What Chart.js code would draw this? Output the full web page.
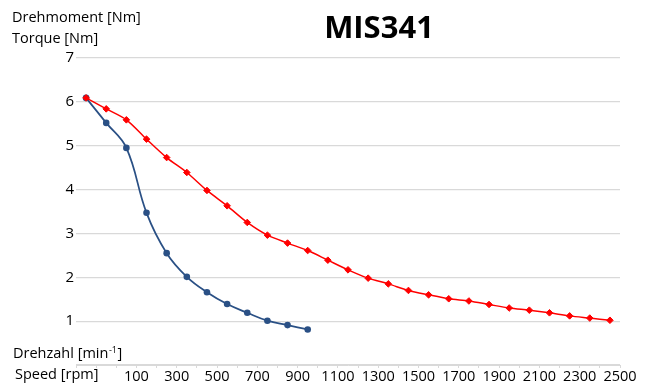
<!DOCTYPE html>
<html>
<head>
<meta charset="utf-8">
<script src="https://cdn.jsdelivr.net/npm/chart.js@4.4.1/dist/chart.umd.min.js"></script>
<style>
  html, body { margin: 0; padding: 0; background: #ffffff; }
  #wrap { width: 648px; height: 385px; }
</style>
</head>
<body>
<div id="wrap"><canvas id="c" width="648" height="385"></canvas></div>
<script>
// ---- data ----
const chartTitle = 'MIS341';
const speedTickLabels = ['100','300','500','700','900','1100','1300','1500','1700','1900','2100','2300','2500'];
const torqueTicks = [0, 1, 2, 3, 4, 5, 6, 7];
// measuring point index along the speed axis (category positions)
const pointIndex = [0,1,2,3,4,5,6,7,8,9,10,11,12,13,14,15,16,17,18,19,20,21,22,23,24,25,26];
// blue curve
const torqueBlue = [6.09, 5.52, 4.95, 3.47, 2.55, 2.01, 1.66, 1.39, 1.19, 1.01, 0.91, 0.81];
// red curve
const torqueRed = [6.09, 5.84, 5.59, 5.15, 4.73, 4.39, 3.98, 3.63, 3.25, 2.96, 2.78, 2.61, 2.39,
                   2.17, 1.98, 1.85, 1.70, 1.60, 1.51, 1.46, 1.38, 1.30, 1.25, 1.19, 1.12, 1.07, 1.02];

const toPoints = (vals) => vals.map((v, i) => ({ x: pointIndex[i], y: v }));
const FONT = "'Open Sans', 'Liberation Sans', sans-serif";

const textPlugin = {
  id: 'textPlugin',
  afterDraw(chart) {
    const ctx = chart.ctx;
    ctx.save();
    ctx.fillStyle = '#000000';
    ctx.textAlign = 'left';
    ctx.textBaseline = 'alphabetic';
    ctx.font = "14.5px " + FONT;
    ctx.fillText('Drehmoment [Nm]', 12, 22);
    ctx.fillText('Torque [Nm]', 12, 43);
    // Drehzahl [min-1] with superscript
    let x = 13, y = 358;
    const a = 'Drehzahl [min';
    ctx.fillText(a, x, y);
    x += ctx.measureText(a).width;
    ctx.font = "9px " + FONT;
    ctx.fillText('-1', x + 0.5, y - 5);
    x += ctx.measureText('-1').width + 1;
    ctx.font = "14.5px " + FONT;
    ctx.fillText(']', x, y);
    ctx.fillText('Speed [rpm]', 15, 379);
    // title
    ctx.textAlign = 'center';
    ctx.font = "bold 31px " + FONT;
    ctx.fillText(chartTitle, 379, 38);
    ctx.restore();
  }
};

new Chart(document.getElementById('c'), {
  type: 'line',
  data: {
    datasets: [
      {
        data: toPoints(torqueRed),
        borderColor: '#ff0000',
        backgroundColor: '#ff0000',
        borderWidth: 1.5,
        pointStyle: 'rectRot',
        pointRadius: 3.3,
        pointBorderWidth: 1,
        pointBorderColor: '#ff0000',
        pointBackgroundColor: '#ff0000',
        tension: 0.3,
        fill: false
      },
      {
        data: toPoints(torqueBlue),
        borderColor: '#2a5085',
        backgroundColor: '#2a5085',
        borderWidth: 1.75,
        pointStyle: 'circle',
        pointRadius: 3.3,
        pointBorderWidth: 0,
        pointBackgroundColor: '#2a5085',
        tension: 0.4,
        fill: false
      }
    ]
  },
  options: {
    responsive: false,
    animation: false,
    devicePixelRatio: 1,
    layout: { padding: { top: 58, right: 28, left: 0, bottom: 0 } },
    plugins: { legend: { display: false }, tooltip: { enabled: false }, title: { display: false } },
    scales: {
      x: {
        type: 'linear',
        min: -0.5,
        max: pointIndex.length - 0.5,
        afterFit(s) { s.height = 20; },
        afterBuildTicks(s) {
          const t = [];
          for (let v = -0.5; v <= pointIndex.length - 0.5; v += 1) t.push({ value: v });
          s.ticks = t;
        },
        ticks: {
          autoSkip: false,
          maxRotation: 0,
          minRotation: 0,
          padding: 0,
          color: '#000000',
          font: { family: FONT, size: 14.5 },
          callback(value) {
            const k = value - 2.5;
            if (k >= 0 && k % 2 === 0) return speedTickLabels[k / 2] || '';
            return '';
          }
        },
        grid: { drawOnChartArea: false, drawTicks: true, tickLength: 3, color: '#d9d9d9', lineWidth: 1 },
        border: { display: true, color: '#d9d9d9', width: 1 }
      },
      y: {
        min: torqueTicks[0],
        max: torqueTicks[torqueTicks.length - 1],
        afterFit(s) { s.width = 76; },
        afterBuildTicks(s) { s.ticks = torqueTicks.map(v => ({ value: v })); },
        ticks: {
          padding: 2,
          color: '#000000',
          font: { family: FONT, size: 15 },
          callback(v) { return v === 0 ? '' : String(v); }
        },
        grid: { color: '#d9d9d9', lineWidth: 1.2, drawTicks: false },
        border: { display: false }
      }
    }
  },
  plugins: [textPlugin]
});
</script>
</body>
</html>
